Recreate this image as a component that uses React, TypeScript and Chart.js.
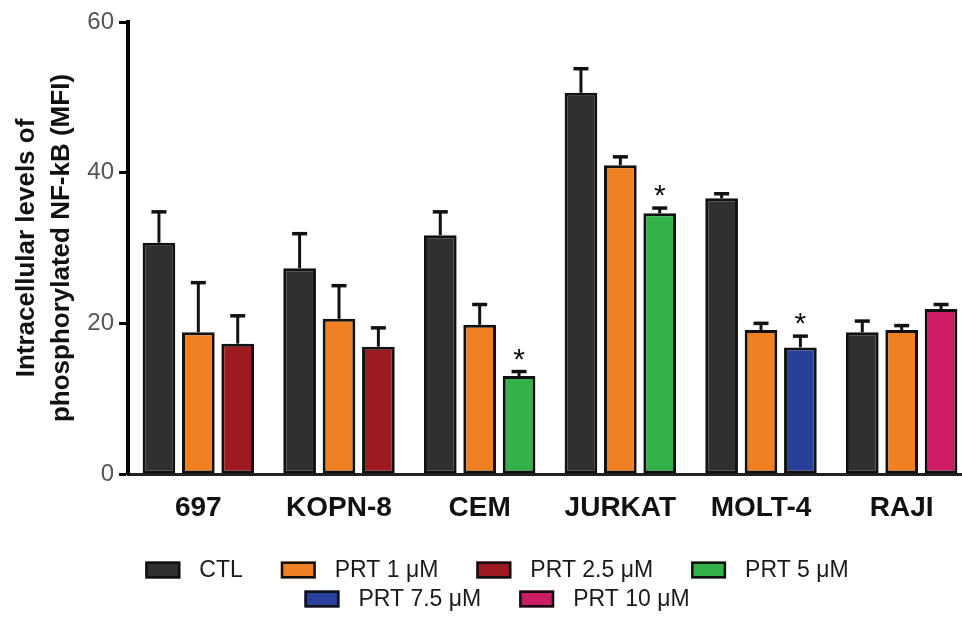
import React, { useEffect, useRef } from "react";
import { Chart, registerables } from "chart.js";

Chart.register(...registerables);

const categories = ["697", "KOPN-8", "CEM", "JURKAT", "MOLT-4", "RAJI"];

const ctlValues = [30.7, 27.3, 31.7, 50.6, 36.6, 18.8];
const ctlErrors = [4.1, 4.6, 3.1, 3.2, 0.6, 1.5];
const prt1Values = [18.8, 20.6, 19.8, 41.0, 19.1, 19.1];
const prt1Errors = [6.6, 4.4, 2.7, 1.1, 0.9, 0.6];
const prt25Values = [17.3, 16.9, null, null, null, null];
const prt25Errors = [3.7, 2.5, null, null, null, null];
const prt5Values = [null, null, 13.0, 34.6, null, null];
const prt5Errors = [null, null, 0.6, 0.7, null, null];
const prt75Values = [null, null, null, null, 16.8, null];
const prt75Errors = [null, null, null, null, 1.5, null];
const prt10Values = [null, null, null, null, null, 21.9];
const prt10Errors = [null, null, null, null, null, 0.6];

const prt5Marks = ["", "", "*", "*", "", ""];
const prt75Marks = ["", "", "", "", "*", ""];
const noMarks = ["", "", "", "", "", ""];

const yTicks = [0, 20, 40, 60];
const yTitle = ["Intracellular levels of", "phosphorylated NF-kB (MFI)"];

const FONT = '"Liberation Sans", Arial, sans-serif';

const seriesList = [
  { label: "CTL", values: ctlValues, errors: ctlErrors, marks: noMarks, color: "#303030", stack: "a" },
  { label: "PRT 1 μM", values: prt1Values, errors: prt1Errors, marks: noMarks, color: "#f08122", stack: "b" },
  { label: "PRT 2.5 μM", values: prt25Values, errors: prt25Errors, marks: noMarks, color: "#9c1a20", stack: "c" },
  { label: "PRT 5 μM", values: prt5Values, errors: prt5Errors, marks: prt5Marks, color: "#33b24a", stack: "c" },
  { label: "PRT 7.5 μM", values: prt75Values, errors: prt75Errors, marks: prt75Marks, color: "#283f9c", stack: "c" },
  { label: "PRT 10 μM", values: prt10Values, errors: prt10Errors, marks: noMarks, color: "#cc1c64", stack: "c" },
];

const errorBarPlugin = {
  id: "errorBars",
  afterDatasetsDraw(chart: any) {
    const ctx = chart.ctx;
    const yScale = chart.scales.y;
    ctx.save();
    chart.data.datasets.forEach((ds: any, di: number) => {
      const meta = chart.getDatasetMeta(di);
      if (meta.hidden) return;
      const errs = ds.errors as (number | null)[];
      const marks = ds.marks as string[];
      meta.data.forEach((el: any, i: number) => {
        const v = ds.data[i];
        const e = errs[i];
        if (v == null) return;
        let topY = el.y;
        if (e != null) {
          const yErr = yScale.getPixelForValue(v + e);
          ctx.strokeStyle = "#111";
          ctx.lineWidth = 3;
          ctx.beginPath();
          ctx.moveTo(el.x, el.y);
          ctx.lineTo(el.x, yErr);
          ctx.stroke();
          ctx.lineWidth = 3.5;
          ctx.beginPath();
          ctx.moveTo(el.x - 7.5, yErr);
          ctx.lineTo(el.x + 7.5, yErr);
          ctx.stroke();
          topY = yErr;
        }
        if (marks[i]) {
          ctx.fillStyle = "#111";
          ctx.font = `30px ${FONT}`;
          ctx.textAlign = "center";
          ctx.textBaseline = "alphabetic";
          ctx.fillText(marks[i], el.x, topY - 3);
        }
      });
    });
    ctx.restore();
  },
};

const legendRows = [[0, 1, 2, 3], [4, 5]];

const customLegendPlugin = {
  id: "customLegend",
  afterDraw(chart: any) {
    const ctx = chart.ctx;
    const boxW = 35;
    const boxH = 17;
    const boxGap = 19;
    const itemGap = 38;
    const centerX = 497;
    const rowY = [570, 599];
    ctx.save();
    ctx.font = `23px ${FONT}`;
    legendRows.forEach((row, r) => {
      const widths = row.map((i) => boxW + boxGap + ctx.measureText(chart.data.datasets[i].label).width);
      const total = widths.reduce((a, b) => a + b, 0) + itemGap * (row.length - 1);
      let x = centerX - total / 2;
      const cy = rowY[r];
      row.forEach((i, k) => {
        const ds = chart.data.datasets[i];
        ctx.fillStyle = ds.backgroundColor;
        ctx.fillRect(x, cy - boxH / 2, boxW, boxH);
        ctx.strokeStyle = "#111";
        ctx.lineWidth = 2.5;
        ctx.strokeRect(x + 1.25, cy - boxH / 2 + 1.25, boxW - 2.5, boxH - 2.5);
        ctx.fillStyle = "#1a1a1a";
        ctx.textAlign = "left";
        ctx.textBaseline = "middle";
        ctx.fillText(ds.label, x + boxW + boxGap, cy + 1);
        x += widths[k] + itemGap;
      });
    });
    ctx.restore();
  },
};

export default function App() {
  const canvasRef = useRef<HTMLCanvasElement | null>(null);

  useEffect(() => {
    document.body.style.margin = "0";
    const canvas = canvasRef.current;
    if (!canvas) return;
    const chart = new Chart(canvas, {
      type: "bar",
      data: {
        labels: categories,
        datasets: seriesList.map((s) => ({
          label: s.label,
          data: s.values,
          errors: s.errors,
          marks: s.marks,
          stack: s.stack,
          backgroundColor: s.color,
          borderColor: "#111",
          borderWidth: 3,
          borderSkipped: false,
          categoryPercentage: 0.84,
          barPercentage: 0.83,
        })) as any,
      },
      options: {
        animation: false,
        responsive: true,
        maintainAspectRatio: false,
        layout: { padding: { top: 22, right: 0, left: 0, bottom: 0 } },
        plugins: {
          legend: { display: false },
          tooltip: { enabled: false },
        },
        scales: {
          x: {
            stacked: true,
            afterFit: (s: any) => {
              s.height = 150;
            },
            grid: { display: false, drawTicks: false },
            border: { display: true, color: "#222", width: 3 },
            ticks: {
              padding: 17,
              color: "#111",
              font: { family: FONT, size: 28, weight: "bold" },
            },
          },
          y: {
            stacked: true,
            min: 0,
            max: 60,
            afterFit: (s: any) => {
              s.width = 128;
            },
            afterBuildTicks: (s: any) => {
              s.ticks = yTicks.map((v) => ({ value: v }));
            },
            grid: {
              drawOnChartArea: false,
              drawTicks: true,
              tickLength: 9,
              tickWidth: 3,
              tickColor: "#000",
            },
            border: { display: true, color: "#000", width: 4 },
            ticks: {
              padding: 5,
              color: "#555",
              font: { family: FONT, size: 24 },
            },
            title: {
              display: true,
              text: yTitle,
              color: "#111",
              font: { family: FONT, size: 26, weight: "bold", lineHeight: 1.35 },
              padding: { top: 9, bottom: 0 },
            },
          },
        },
      } as any,
      plugins: [errorBarPlugin, customLegendPlugin],
    });
    return () => chart.destroy();
  }, []);

  return (
    <div style={{ width: 962, height: 624, overflow: "hidden", position: "relative" }}>
      <div style={{ width: 972, height: 624, position: "relative" }}>
        <canvas ref={canvasRef} />
      </div>
    </div>
  );
}
